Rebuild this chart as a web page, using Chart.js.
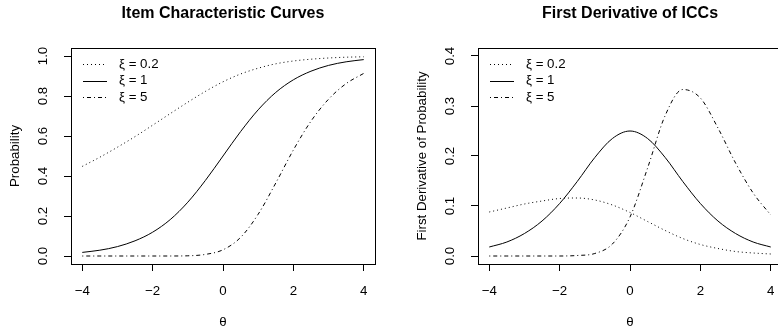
<!DOCTYPE html>
<html>
<head>
<meta charset="utf-8">
<script src="https://cdn.jsdelivr.net/npm/chart.js@4.4.1/dist/chart.umd.min.js"></script>
<style>
  html, body { margin: 0; padding: 0; background: #fff; overflow: hidden; width: 778px; height: 328px; }
  .panel { position: absolute; top: 0; }
  #p1 { left: 0; }
  #p2 { left: 389px; }
</style>
</head>
<body>
<div class="panel" id="p1"><canvas id="iccChart" width="389" height="328"></canvas></div>
<div class="panel" id="p2"><canvas id="derivChart" width="400" height="328"></canvas></div>
<script>
// values, theta step 0.5
const theta = [-4, -3.5, -3, -2.5, -2, -1.5, -1, -0.5, 0, 0.5, 1, 1.5, 2, 2.5, 3, 3.5, 4];
const seriesLabels = ['ξ = 0.2', 'ξ = 1', 'ξ = 5'];

const icc02 = [0.448, 0.494, 0.544, 0.597, 0.654, 0.712, 0.769, 0.823, 0.871, 0.910, 0.939, 0.961, 0.975, 0.984, 0.990, 0.994, 0.996];
const icc1  = [0.018, 0.029, 0.047, 0.076, 0.119, 0.182, 0.269, 0.378, 0.500, 0.622, 0.731, 0.818, 0.881, 0.924, 0.953, 0.971, 0.982];
const icc5  = [0.000, 0.000, 0.000, 0.000, 0.000, 0.000, 0.001, 0.008, 0.031, 0.093, 0.209, 0.365, 0.530, 0.674, 0.784, 0.862, 0.913];

const d02 = [0.088, 0.096, 0.104, 0.110, 0.115, 0.116, 0.112, 0.102, 0.087, 0.069, 0.051, 0.035, 0.023, 0.015, 0.009, 0.006, 0.004];
const d1  = [0.018, 0.028, 0.045, 0.070, 0.105, 0.149, 0.197, 0.235, 0.250, 0.235, 0.197, 0.149, 0.105, 0.070, 0.045, 0.028, 0.018];
const d5  = [0.000, 0.000, 0.000, 0.000, 0.000, 0.001, 0.005, 0.024, 0.078, 0.176, 0.281, 0.333, 0.316, 0.256, 0.186, 0.126, 0.082];

const xTicks = [-4, -2, 0, 2, 4];
const iccTicks = [0, 0.2, 0.4, 0.6, 0.8, 1];
const derivTicks = [0, 0.1, 0.2, 0.3, 0.4];

const dashes = [[1, 3], [], [1, 3, 4, 3]];
const FONT = '"Liberation Sans", Arial, Helvetica, sans-serif';

Chart.defaults.font.family = FONT;
Chart.defaults.font.size = 13.3;
Chart.defaults.color = '#000';

// R-style frame, rotated y labels, titles and legend
const rStyle = {
  id: 'rStyle',
  afterDraw(chart, args, opts) {
    const ctx = chart.ctx, a = chart.chartArea;
    const cx = (a.left + a.right) / 2, cy = (a.top + a.bottom) / 2;
    const ys = chart.scales.y;
    ctx.save();
    ctx.strokeStyle = '#000';
    ctx.lineWidth = 1;
    ctx.strokeRect(a.left + 0.5, a.top + 0.5, a.right - a.left, a.bottom - a.top);

    ctx.fillStyle = '#000';
    ctx.font = '13.3px ' + FONT;
    ctx.textAlign = 'center';
    ctx.textBaseline = 'middle';
    opts.yTicks.forEach(v => {
      ctx.save();
      ctx.translate(a.left - 28, ys.getPixelForValue(v));
      ctx.rotate(-Math.PI / 2);
      ctx.fillText(v.toFixed(1), 0, 0);
      ctx.restore();
    });

    ctx.save();
    ctx.translate(a.left - 56, cy);
    ctx.rotate(-Math.PI / 2);
    ctx.fillText(opts.yTitle, 0, 0);
    ctx.restore();

    ctx.fillText('θ', cx, 322);

    ctx.font = 'bold 16px ' + FONT;
    ctx.fillText(opts.title, cx, 14);

    // legend, no frame
    ctx.font = '13.3px ' + FONT;
    ctx.textAlign = 'left';
    chart.data.datasets.forEach((ds, i) => {
      const y = a.top + 16 + i * 16.7;
      ctx.setLineDash(ds.borderDash);
      ctx.beginPath();
      ctx.moveTo(a.left + 12, Math.round(y) + 0.5);
      ctx.lineTo(a.left + 36, Math.round(y) + 0.5);
      ctx.stroke();
      ctx.setLineDash([]);
      ctx.fillText(ds.label, a.left + 48, y);
    });
    ctx.restore();
  }
};

function makeDatasets(list) {
  return list.map((vals, i) => ({
    label: seriesLabels[i],
    data: theta.map((t, j) => ({ x: t, y: vals[j] })),
    borderColor: '#000',
    borderWidth: 1,
    borderDash: dashes[i],
    pointRadius: 0,
    fill: false,
    cubicInterpolationMode: 'monotone'
  }));
}

function makeChart(id, datasets, yMin, yMax, yTicks, yWidth, padRight, title, yTitle) {
  return new Chart(document.getElementById(id), {
    type: 'line',
    data: { datasets: datasets },
    options: {
      responsive: false,
      animation: false,
      layout: { padding: { left: 0, top: 48, right: padRight, bottom: 0 } },
      plugins: {
        legend: { display: false },
        tooltip: { enabled: false },
        rStyle: { title: title, yTitle: yTitle, yTicks: yTicks }
      },
      scales: {
        x: {
          type: 'linear',
          min: -4.32,
          max: 4.32,
          afterBuildTicks: s => { s.ticks = xTicks.map(v => ({ value: v })); },
          afterFit: s => { s.height = 64; s.paddingLeft = 0; s.paddingRight = 0; },
          ticks: {
            padding: 12,
            maxRotation: 0,
            callback: v => (v < 0 ? '\u2212' + Math.abs(v) : String(v))
          },
          grid: { drawOnChartArea: false, color: '#000', tickLength: 7 },
          border: { display: false }
        },
        y: {
          type: 'linear',
          min: yMin,
          max: yMax,
          afterBuildTicks: s => { s.ticks = yTicks.map(v => ({ value: v })); },
          afterFit: s => { s.width = yWidth; s.paddingTop = 0; s.paddingBottom = 0; },
          ticks: { display: false },
          grid: { drawOnChartArea: false, color: '#000', tickLength: 7 },
          border: { display: false }
        }
      }
    },
    plugins: [rStyle]
  });
}

makeChart('iccChart', makeDatasets([icc02, icc1, icc5]), -0.04, 1.04, iccTicks, 71, 14,
  'Item Characteristic Curves', 'Probability');
makeChart('derivChart', makeDatasets([d02, d1, d5]), -0.016, 0.416, derivTicks, 89, 7,
  'First Derivative of ICCs', 'First Derivative of Probability');
</script>
</body>
</html>
